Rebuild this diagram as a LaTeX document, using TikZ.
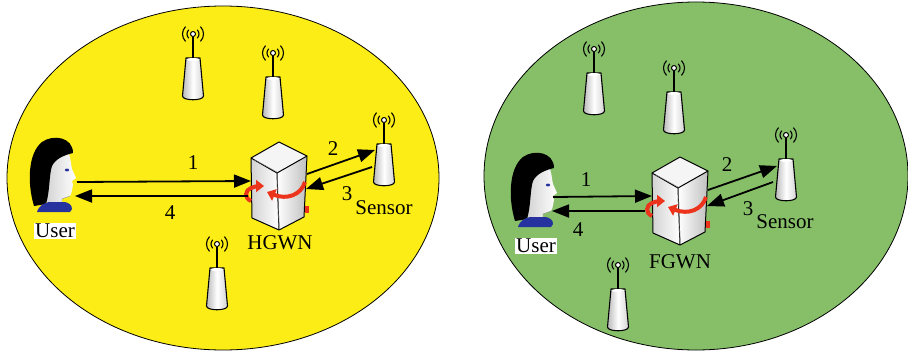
\documentclass[tikz,border=0pt]{standalone}
\usepackage{fontspec}
\setmainfont{Liberation Serif}
\usetikzlibrary{arrows.meta}

\definecolor{cellyellow}{RGB}{253,237,22}
\definecolor{cellgreen}{RGB}{134,191,104}
\definecolor{shirtblue}{RGB}{38,50,158}
\definecolor{swirlred}{RGB}{236,52,28}

% antenna, ball of the mast at (#1,#2)
\newcommand{\drawAntenna}[2]{%
\begin{scope}[shift={(#1,#2)}]
\draw[line width=1.1] (-45:6) arc(-45:45:6);
\draw[line width=1.1] (135:6) arc(135:225:6);
\draw[line width=1.1] (-45:10.5) arc(-45:45:10.5);
\draw[line width=1.1] (135:10.5) arc(135:225:10.5);
\draw[line width=1.6] (0,2.5) -- (0,24);
\shade[left color=gray!55, right color=gray!35, middle color=white]
  (-7,24) -- (7,24) -- (10.5,62) .. controls (10.5,67) and (-10.5,67) .. (-10.5,62) -- cycle;
\draw[line width=1.1, line join=round]
  (-7,24) -- (7,24) -- (10.5,62) .. controls (10.5,67) and (-10.5,67) .. (-10.5,62) -- cycle;
\fill[white] (0,25.5) ellipse (6 and 1.5);
\draw[line width=1, fill=white] (0,0) circle (2.5);
\end{scope}}

% gateway cube, centre at (#1,#2)
\newcommand{\drawServer}[2]{%
\begin{scope}[shift={(#1,#2)}]
\shade[left color=gray!35, right color=white] (-28,-28) -- (-2,-13) -- (0,44) -- (-27,32) -- cycle;
\shade[left color=white, right color=gray!50] (-2,-13) -- (28,-30) -- (25,31) -- (0,44) -- cycle;
\fill[gray!8] (-28,-28) -- (0,-44) -- (28,-30) -- (-2,-13) -- cycle;
\draw[line width=1, line join=round] (-28,-28) -- (0,-44) -- (28,-30) -- (25,31) -- (0,44) -- (-27,32) -- cycle;
\draw[line width=1, line join=round] (-28,-28) -- (-2,-13) -- (28,-30);
\draw[line width=1] (-2,-13) -- (0,44);
\draw[line width=0.4, gray] (-24,-26) -- (-2,-14) -- (0,40);
% red rotation arrows
\draw[swirl] (-28,15) .. controls (-35,12) and (-34,4) .. (-28,2) .. controls (-25,1) and (-22,0) .. (-15,0);
\draw[swirl] (26,-4) .. controls (22,9) and (8,14) .. (-12,6);
\draw[swirlred, line width=4] (28,20) -- (28,27);
\end{scope}}

% user head and shoulders, centre at (#1,#2)
\newcommand{\drawUser}[2]{%
\begin{scope}[shift={(#1,#2)}]
\shade[left color=gray!35, right color=white]
  (-6,-20) -- (14,-21) .. controls (16,-15) and (16,-10) .. (17,-6) -- (21,3) -- (17,6) -- (18,10)
  .. controls (17,14) and (17,18) .. (15,21) -- (7,24) -- (7,30) -- (-8,30) -- (-10,10) -- cycle;
\draw[line width=0.3, gray] (15,21) -- (7,24) -- (7,30);
\fill[black] (-21,31) .. controls (-28,8) and (-27,-22) .. (-13,-33) .. controls (-2,-41) and (18,-38) .. (18,-22)
  .. controls (10,-20) and (1,-17) .. (-3,-9) .. controls (-6,0) and (-5,16) .. (-9,29) -- cycle;
\fill[shirtblue] (12,-5) ellipse (2.2 and 1.4);
\fill[shirtblue] (-18,37) .. controls (-16,30) and (-10,28) .. (-6,27) -- (10,27)
  .. controls (14,28) and (17,30) .. (17,34) -- (15,37) -- cycle;
\end{scope}}

\begin{document}
\begin{tikzpicture}[x=1pt, y=-1pt,
  lbl/.style={font=\fontsize{21}{25}\selectfont, inner sep=1pt},
  userbox/.style={lbl, fill=white, inner sep=1.5pt},
  link/.style={line width=1.8, -{Triangle[length=17pt,width=13pt]}},
  swirl/.style={draw=swirlred, line width=4, -{Triangle[length=8pt,width=12pt]}}]
\useasboundingbox (0,0) rectangle (908,356);

% Draw the two cells
\draw[fill=cellyellow, line width=0.8] (223,178) ellipse (216 and 172);
\draw[fill=cellgreen, line width=0.8] (696,176) ellipse (212 and 174);

% Left cell: home gateway
\drawAntenna{193}{34}
\drawAntenna{273}{53}
\drawAntenna{217}{244}
\drawAntenna{384}{120}
\drawUser{55}{175}
\drawServer{279}{186}

\coordinate (hu1) at (77,182);
\coordinate (hs1) at (251,181);
\coordinate (hs4) at (248,196);
\coordinate (hu4) at (75,196);
\coordinate (hs2) at (307,174);
\coordinate (hn2) at (375,150);
\coordinate (hn3) at (372,167);
\coordinate (hs3) at (306,189);
\draw[link] (hu1) -- (hs1);
\draw[link] (hs4) -- (hu4);
\draw[link] (hs2) -- (hn2);
\draw[link] (hn3) -- (hs3);

\node[lbl] (hone) at (193,163) {1};
\node[lbl] (hfour) at (170,213) {4};
\node[lbl] (htwo) at (333,149) {2};
\node[lbl] (hthree) at (347,194) {3};
\node[lbl] (hsensor) at (384,208) {Sensor};
\node[lbl] (hgwn) at (280,243) {HGWN};
\node[userbox] (huser) at (55,231) {User};

% Right cell: foreign gateway
\drawAntenna{594}{49}
\drawAntenna{674}{68}
\drawAntenna{618}{265}
\drawAntenna{786}{135}
\drawUser{536}{190}
\drawServer{680}{201}

\coordinate (fu1) at (553,197);
\coordinate (fs1) at (652,196);
\coordinate (fs4) at (645,211);
\coordinate (fu4) at (552,211);
\coordinate (fs2) at (708,190);
\coordinate (fn2) at (777,166);
\coordinate (fn3) at (773,182);
\coordinate (fs3) at (707,206);
\draw[link] (fu1) -- (fs1);
\draw[link] (fs4) -- (fu4);
\draw[link] (fs2) -- (fn2);
\draw[link] (fn3) -- (fs3);

\node[lbl] (fone) at (586,180) {1};
\node[lbl] (ffour) at (578,230) {4};
\node[lbl] (ftwo) at (727,165) {2};
\node[lbl] (fthree) at (748,209) {3};
\node[lbl] (fsensor) at (785,222) {Sensor};
\node[lbl] (fgwn) at (680,262) {FGWN};
\node[userbox] (fuser) at (536,246) {User};
\end{tikzpicture}
\end{document}
